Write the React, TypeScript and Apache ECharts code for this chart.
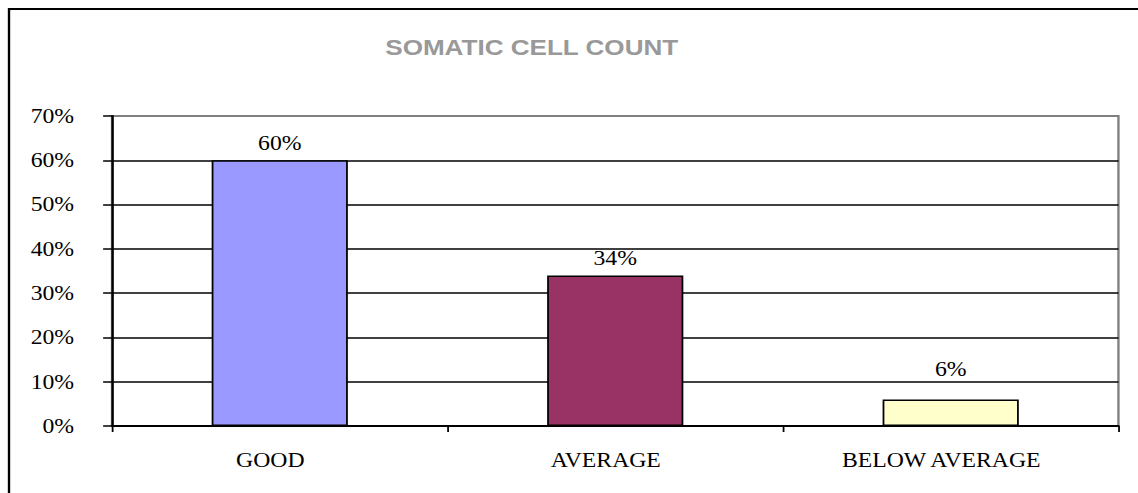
import React, { useEffect, useRef } from "react";
import * as echarts from "echarts";

const categories = ["GOOD", "AVERAGE", "BELOW AVERAGE"];
const values = [60, 34, 6];
const barColors = ["#9999FF", "#993366", "#FFFFCC"];
const titleText = "SOMATIC CELL COUNT";

// The reference is horizontally stretched; draw at 960 wide and stretch to 1138.
const BASE_W = 960;
const STRETCH = 1138 / BASE_W;

export default function App() {
  const ref = useRef<HTMLDivElement>(null);
  useEffect(() => {
    document.body.style.margin = "0";
    document.body.style.overflow = "hidden";
    const chart = echarts.init(ref.current!, null, { renderer: "svg" });
    const serif = "'Liberation Serif', 'Times New Roman', serif";
    chart.setOption({
      animation: false,
      backgroundColor: "#ffffff",
      title: {
        text: titleText,
        left: 320,
        top: 31,
        textStyle: {
          fontFamily: "'Liberation Sans', Arial, sans-serif",
          fontWeight: "bold",
          fontSize: 22,
          color: "#999999",
        },
      },
      graphic: [
        {
          type: "rect",
          shape: { x: 7.6, y: 9, width: 1300, height: 700 },
          style: { fill: "none", stroke: "#000", lineWidth: 2 },
          silent: true,
        },
      ],
      grid: {
        left: 94.5,
        top: 116,
        right: 16.5,
        bottom: 67,
        show: true,
        borderColor: "#808080",
        borderWidth: 2,
        backgroundColor: "#ffffff",
      },
      xAxis: {
        type: "category",
        data: categories,
        boundaryGap: true,
        axisLine: { show: true, lineStyle: { color: "#000", width: 2 } },
        axisTick: { show: true, alignWithLabel: false, length: 6, lineStyle: { color: "#000", width: 1.5 } },
        axisLabel: {
          color: "#000",
          fontFamily: serif,
          fontSize: 20,
          margin: 24,
          padding: [0, 16, 0, 0],
        },
      },
      yAxis: {
        type: "value",
        min: 0,
        max: 70,
        interval: 10,
        axisLine: { show: true, lineStyle: { color: "#000", width: 2 } },
        axisTick: { show: true, length: 7.5, lineStyle: { color: "#000", width: 1.5 } },
        axisLabel: {
          color: "#000",
          fontFamily: serif,
          fontSize: 20,
          margin: 32,
          formatter: (v: number) => v + "%",
        },
        splitLine: {
          show: true,
          lineStyle: {
            color: ["#000", "#000", "#000", "#000", "#000", "#000", "#000", "#808080"],
            width: 1.5,
          },
        },
      },
      series: [
        {
          type: "bar",
          data: values.map((v, i) => ({
            value: v,
            itemStyle: { color: barColors[i], borderColor: "#000", borderWidth: 1.5 },
            label: { distance: v < 10 ? 20 : 7 },
          })),
          barWidth: "40.6%",
          label: {
            show: true,
            position: "top",
            distance: 7,
            color: "#000",
            fontFamily: serif,
            fontSize: 20,
            formatter: (p: any) => p.value + "%",
          },
        },
      ],
    });
    return () => chart.dispose();
  }, []);
  return (
    <div style={{ width: 1138, height: 493, overflow: "hidden" }}>
      <div
        ref={ref}
        style={{
          width: BASE_W,
          height: 493,
          transform: `scaleX(${STRETCH})`,
          transformOrigin: "0 0",
        }}
      />
    </div>
  );
}
